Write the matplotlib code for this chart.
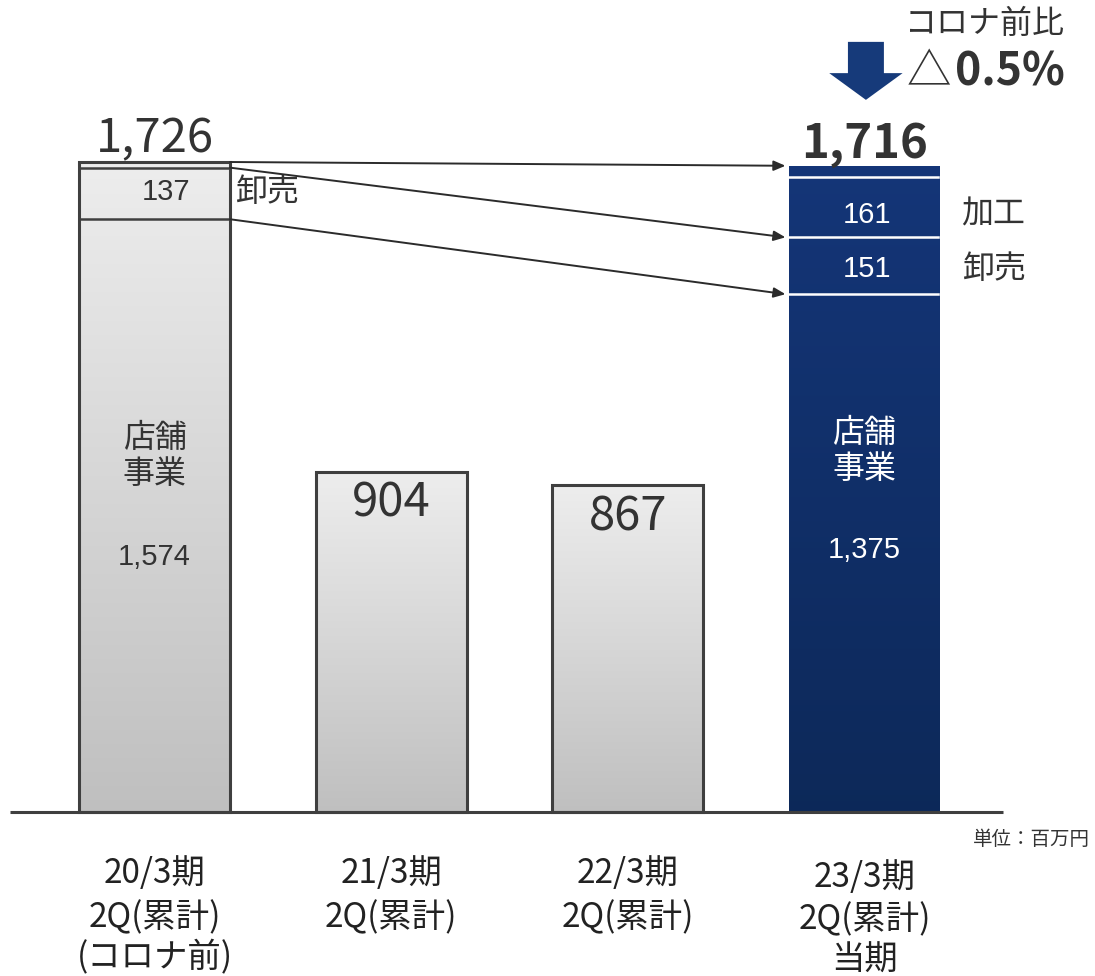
import numpy as np
import matplotlib
matplotlib.use("Agg")
import matplotlib.pyplot as plt
from matplotlib.patches import Rectangle, Polygon

plt.rcParams['font.family'] = ['Noto Sans CJK JP', 'DejaVu Sans']

# data (million yen)
periods = [["20/3期", "2Q(累計)", "(コロナ前)"], ["21/3期", "2Q(累計)"],
           ["22/3期", "2Q(累計)"], ["23/3期", "2Q(累計)", "当期"]]
totals = [1726, 904, 867, 1716]
total_labels = ["1,726", "904", "867", "1,716"]
store_first = 1574
wholesale_first = 137
store_last = 1375
wholesale_last = 151
processing_last = 161

GRAY_TOP, GRAY_BOT = np.array([0.93, 0.93, 0.93]), np.array([0.75, 0.75, 0.75])
NAVY_TOP, NAVY_BOT = np.array([0.08, 0.21, 0.47]), np.array([0.05, 0.16, 0.35])
EDGE = "#3f3f3f"
TXT = "#333333"
NUM_FONT = ['Liberation Sans', 'DejaVu Sans']

fig = plt.figure(figsize=(10.95, 9.76), dpi=100)
ax = fig.add_axes([0, 0, 1, 1])
ax.set_xlim(-0.653, 3.974)
ax.set_ylim(-435.5, 2156.2)
ax.axis('off')

x = np.arange(len(totals))
w = 0.638


def gradient_bar(xc, top, c_top, c_bot, edge):
    rect = Rectangle((xc - w / 2, 0), w, top, facecolor='none',
                     edgecolor=edge if edge else 'none', lw=2.2, zorder=3)
    ax.add_patch(rect)
    grad = np.linspace(0, 1, 256)[:, None, None]
    img = c_top * (1 - grad) + c_bot * grad
    im = ax.imshow(img, extent=(xc - w / 2, xc + w / 2, 0, top), origin='upper',
                   aspect='auto', zorder=2, interpolation='bicubic')
    im.set_clip_path(rect)
    return rect


for i, t in enumerate(totals):
    if i == 3:
        gradient_bar(x[i], t, NAVY_TOP, NAVY_BOT, None)
    else:
        gradient_bar(x[i], t, GRAY_TOP, GRAY_BOT, EDGE)

# baseline
ax.plot([-0.61, 3.585], [0, 0], color=EDGE, lw=2.2, zorder=4, solid_capstyle='butt')

# segment lines in first bar
for yv in [store_first, store_first + wholesale_first]:
    ax.plot([x[0] - w / 2, x[0] + w / 2], [yv, yv], color=EDGE, lw=1.8, zorder=4)
# segment lines in last bar
for yv in [store_last, store_last + wholesale_last, store_last + wholesale_last + processing_last]:
    ax.plot([x[3] - w / 2, x[3] + w / 2 - 0.01], [yv, yv], color='white', lw=1.8, zorder=4)

# total labels
ax.text(x[0], totals[0] + 62, total_labels[0], ha='center', va='center', fontsize=34, color=TXT)
ax.text(x[3], totals[3] + 58, total_labels[3], ha='center', va='center', fontsize=34,
        color=TXT, fontweight='bold')
for i in (1, 2):
    ax.text(x[i], totals[i] - 84, total_labels[i], ha='center', va='center', fontsize=34, color=TXT)

# inner labels bar 1
ax.text(x[0] + 0.05, store_first + wholesale_first / 2 + 5, str(wholesale_first), ha='center',
        va='center', fontsize=21, color=TXT, family=NUM_FONT)
ax.text(x[0] + w / 2 + 0.02, store_first + wholesale_first / 2 + 5, "卸売", ha='left',
        va='center', fontsize=23, color=TXT)
ax.text(x[0], 993, "店舗", ha='center', va='center', fontsize=23, color=TXT)
ax.text(x[0], 898, "事業", ha='center', va='center', fontsize=23, color=TXT)
ax.text(x[0], 677, f"{store_first:,}", ha='center', va='center', fontsize=21, color=TXT,
        family=NUM_FONT)

# inner labels last bar
ax.text(x[3] + 0.01, store_last + wholesale_last + processing_last / 2 - 20, str(processing_last),
        ha='center', va='center', fontsize=21, color='white', family=NUM_FONT)
ax.text(x[3] + 0.01, store_last + wholesale_last / 2 - 8, str(wholesale_last),
        ha='center', va='center', fontsize=21, color='white', family=NUM_FONT)
ax.text(3.41, store_last + wholesale_last + processing_last / 2 - 20, "加工", ha='left',
        va='center', fontsize=23, color=TXT)
ax.text(3.41, store_last + wholesale_last / 2 - 8, "卸売", ha='left',
        va='center', fontsize=23, color=TXT)
ax.text(x[3], 1006, "店舗", ha='center', va='center', fontsize=23, color='white')
ax.text(x[3], 911, "事業", ha='center', va='center', fontsize=23, color='white')
ax.text(x[3], 696, f"{store_last:,}", ha='center', va='center', fontsize=21, color='white',
        family=NUM_FONT)

# connecting arrows
starts = [totals[0], store_first + wholesale_first, store_first]
ends = [totals[3], store_last + wholesale_last, store_last]
for s, e in zip(starts, ends):
    ax.annotate("", xy=(x[3] - w / 2 - 0.015, e), xytext=(x[0] + w / 2, s),
                arrowprops=dict(arrowstyle='-|>,head_length=0.7,head_width=0.3',
                                color='#2b2b2b', lw=1.4, shrinkA=0, shrinkB=0), zorder=5)

# big down arrow
cx = x[3] + 0.006
arrow = Polygon([(cx - 0.076, 2045), (cx + 0.076, 2045), (cx + 0.076, 1962),
                 (cx + 0.155, 1962), (cx, 1891), (cx - 0.155, 1962), (cx - 0.076, 1962)],
                closed=True, facecolor='#163a7a', edgecolor='none', zorder=5)
ax.add_patch(arrow)
ax.text(3.171, 2092, "コロナ前比", ha='left', va='center', fontsize=23, color=TXT)
ax.text(3.178, 1965, "△", ha='left', va='center', fontsize=32, color=TXT)
ax.text(3.382, 1965, "0.5%", ha='left', va='center', fontsize=32, color=TXT, fontweight='bold')

# unit
ax.text(3.953, -74, "単位：百万円", ha='right', va='center', fontsize=14, color=TXT)

# category labels, one line at a time
line_y = [[-162, -281, -388], [-162, -281], [-162, -281], [-173, -287, -393]]
for i, lines in enumerate(periods):
    for lab, yv in zip(lines, line_y[i]):
        ax.text(x[i], yv, lab, ha='center', va='center', fontsize=24, color='#222222')

fig.savefig("out.png", dpi=100)
